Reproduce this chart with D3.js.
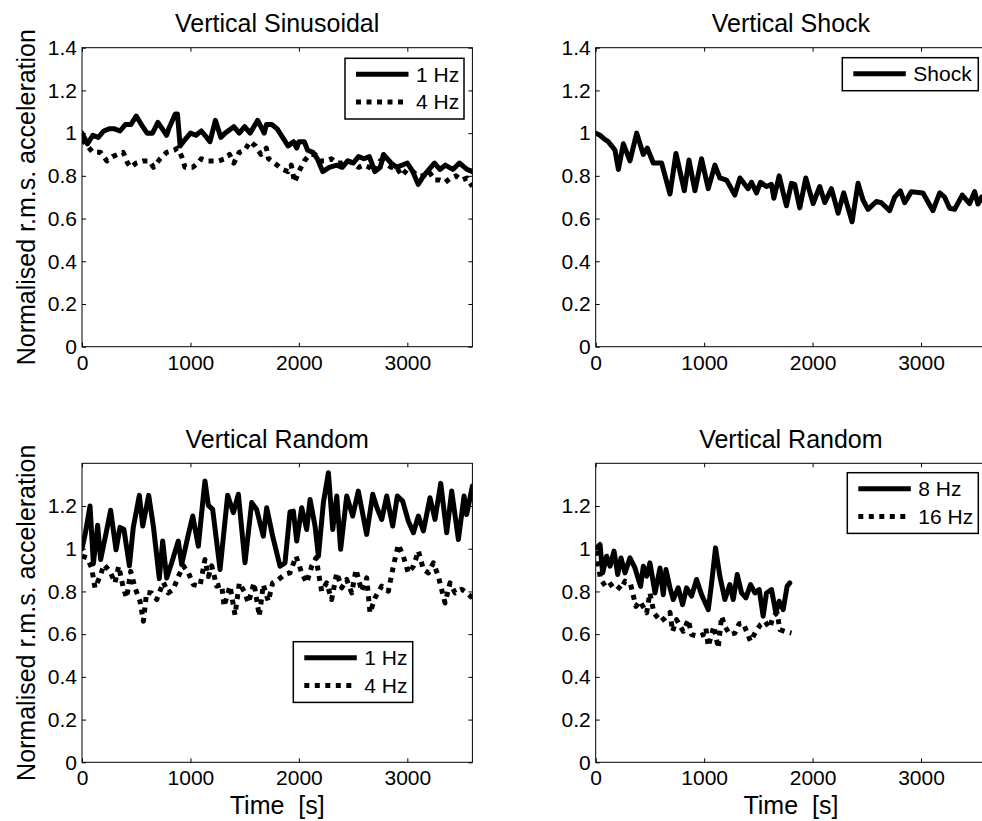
<!DOCTYPE html>
<html>
<head>
<meta charset="utf-8">
<script src="https://d3js.org/d3.v7.min.js"></script>
<style>
body { margin: 0; background: #fff; }
svg { display: block; font-family: "Liberation Sans", Arial, sans-serif; }
</style>
</head>
<body>
<div id="chart"></div>
<script>
// time axis ticks and y ticks
var xTicks = [0, 1000, 2000, 3000];
var yTicksTop = [0, 0.2, 0.4, 0.6, 0.8, 1, 1.2, 1.4];
var yTicksBottom = [0, 0.2, 0.4, 0.6, 0.8, 1, 1.2];

// [time s, normalised rms]
var sinus1Hz = [[0,1.0],[50,0.95],[100,0.99],[150,0.98],[200,1.01],[250,1.02],[300,1.02],[350,1.01],[400,1.04],[450,1.04],[500,1.08],[560,1.03],[600,1.0],[650,1.0],[700,1.05],[780,0.99],[800,1.02],[860,1.09],[880,1.09],[905,0.94],[950,0.97],[1000,1.0],[1050,0.99],[1100,1.01],[1150,0.98],[1180,0.96],[1230,1.06],[1280,0.98],[1320,1.0],[1400,1.03],[1450,1.0],[1500,1.03],[1550,1.0],[1620,1.06],[1680,1.0],[1700,1.04],[1750,1.04],[1800,1.02],[1850,0.98],[1900,0.94],[1950,0.96],[1980,0.93],[2000,0.96],[2050,0.96],[2080,0.92],[2130,0.91],[2170,0.88],[2220,0.82],[2280,0.84],[2350,0.85],[2400,0.84],[2450,0.87],[2500,0.86],[2550,0.89],[2600,0.88],[2650,0.89],[2700,0.82],[2750,0.84],[2780,0.9],[2850,0.86],[2900,0.84],[3000,0.86],[3050,0.82],[3100,0.76],[3150,0.8],[3200,0.83],[3250,0.86],[3300,0.83],[3350,0.85],[3420,0.83],[3480,0.86],[3550,0.83],[3600,0.82]];
var sinus4Hz = [[0,0.97],[50,0.94],[100,0.91],[170,0.91],[230,0.87],[280,0.89],[330,0.9],[380,0.91],[420,0.86],[450,0.84],[500,0.86],[560,0.87],[620,0.87],[660,0.84],[720,0.88],[780,0.91],[850,0.92],[880,0.93],[920,0.89],[950,0.84],[1020,0.84],[1070,0.86],[1100,0.88],[1150,0.87],[1200,0.87],[1260,0.87],[1320,0.88],[1360,0.9],[1400,0.86],[1450,0.91],[1500,0.92],[1550,0.96],[1600,0.94],[1650,0.9],[1700,0.93],[1720,0.88],[1800,0.85],[1850,0.83],[1900,0.82],[1930,0.85],[1960,0.77],[2000,0.82],[2050,0.87],[2100,0.9],[2150,0.9],[2200,0.87],[2250,0.87],[2300,0.88],[2350,0.86],[2400,0.86],[2450,0.87],[2500,0.86],[2550,0.84],[2600,0.85],[2650,0.84],[2700,0.82],[2750,0.87],[2800,0.86],[2850,0.84],[2900,0.84],[2950,0.8],[3000,0.83],[3050,0.82],[3100,0.8],[3150,0.8],[3200,0.82],[3250,0.78],[3300,0.78],[3350,0.77],[3400,0.79],[3450,0.8],[3500,0.78],[3550,0.79],[3600,0.75]];
var shock = [[0,1.0],[40,0.99],[86,0.97],[115,0.96],[147,0.94],[178,0.92],[209,0.83],[255,0.95],[316,0.87],[378,1.0],[439,0.9],[476,0.93],[531,0.86],[608,0.86],[685,0.715],[740,0.905],[817,0.73],[860,0.874],[915,0.73],[976,0.88],[1038,0.74],[1099,0.85],[1145,0.79],[1207,0.78],[1283,0.71],[1330,0.79],[1406,0.74],[1437,0.77],[1483,0.72],[1520,0.77],[1575,0.75],[1621,0.76],[1643,0.695],[1692,0.8],[1729,0.72],[1759,0.66],[1805,0.765],[1835,0.76],[1882,0.65],[1937,0.79],[2005,0.67],[2066,0.75],[2112,0.675],[2174,0.74],[2235,0.625],[2287,0.72],[2364,0.585],[2419,0.765],[2465,0.687],[2511,0.643],[2588,0.68],[2634,0.674],[2711,0.637],[2757,0.7],[2809,0.73],[2849,0.674],[2911,0.726],[3018,0.72],[3110,0.637],[3172,0.72],[3218,0.7],[3264,0.648],[3310,0.643],[3380,0.71],[3448,0.67],[3494,0.726],[3525,0.668],[3558,0.7],[3600,0.66]];
var random1Hz = [[0,1.0],[30,1.07],[74,1.2],[105,0.93],[144,1.11],[172,0.95],[221,1.07],[264,1.18],[314,0.995],[350,1.1],[387,1.09],[437,0.92],[473,1.1],[529,1.25],[560,1.106],[615,1.25],[658,1.106],[713,0.86],[744,1.036],[781,0.863],[827,0.934],[888,1.036],[919,0.926],[981,1.067],[1021,1.153],[1073,1.012],[1119,1.247],[1134,1.317],[1165,1.203],[1205,1.184],[1273,0.903],[1343,1.25],[1396,1.169],[1442,1.255],[1503,0.934],[1565,1.216],[1610,1.184],[1672,1.059],[1703,1.192],[1758,1.059],[1826,0.918],[1872,0.934],[1918,1.172],[1949,1.176],[1980,1.036],[2026,1.192],[2072,1.09],[2103,1.231],[2149,1.106],[2180,0.965],[2226,1.216],[2272,1.356],[2312,1.09],[2349,1.247],[2385,0.997],[2441,1.247],[2496,1.153],[2548,1.27],[2625,1.067],[2681,1.255],[2720,1.192],[2764,1.137],[2810,1.247],[2865,1.106],[2908,1.247],[2957,1.223],[3009,1.13],[3056,1.075],[3102,1.153],[3148,1.083],[3209,1.239],[3255,1.137],[3308,1.306],[3363,1.075],[3409,1.27],[3471,1.043],[3523,1.247],[3547,1.16],[3600,1.294]];
var random4Hz = [[0,0.965],[49,0.957],[89,0.91],[120,0.817],[166,0.87],[203,0.926],[258,0.894],[304,0.84],[338,0.918],[381,0.817],[412,0.77],[449,0.894],[489,0.817],[535,0.754],[566,0.66],[596,0.796],[642,0.793],[689,0.762],[750,0.843],[796,0.793],[842,0.81],[888,0.87],[935,0.92],[981,0.887],[1027,0.832],[1088,0.825],[1134,0.95],[1165,0.87],[1196,0.92],[1242,0.825],[1288,0.832],[1310,0.73],[1365,0.825],[1411,0.69],[1451,0.84],[1503,0.793],[1534,0.746],[1586,0.84],[1635,0.684],[1672,0.832],[1718,0.754],[1758,0.84],[1811,0.856],[1872,0.88],[1918,0.887],[1974,0.965],[2026,0.887],[2072,0.84],[2118,0.918],[2158,0.957],[2210,0.801],[2256,0.84],[2302,0.762],[2349,0.887],[2395,0.817],[2441,0.856],[2487,0.793],[2527,0.903],[2579,0.801],[2625,0.864],[2656,0.7],[2702,0.77],[2764,0.825],[2825,0.801],[2871,0.918],[2917,1.02],[2963,0.965],[3009,0.887],[3056,0.918],[3102,0.99],[3148,0.903],[3194,0.887],[3240,0.934],[3286,0.87],[3348,0.746],[3394,0.84],[3440,0.793],[3501,0.81],[3547,0.793],[3600,0.77]];
var random8Hz = [[9,1.004],[40,1.02],[64,0.887],[101,0.965],[132,0.918],[169,0.989],[203,0.879],[233,0.957],[270,0.887],[316,0.957],[362,0.91],[414,0.824],[439,0.918],[470,0.871],[500,0.934],[547,0.793],[593,0.91],[623,0.785],[648,0.903],[685,0.817],[715,0.762],[761,0.817],[801,0.738],[838,0.817],[884,0.778],[930,0.856],[976,0.785],[1038,0.715],[1069,0.84],[1105,1.004],[1145,0.871],[1191,0.762],[1237,0.832],[1268,0.762],[1305,0.879],[1345,0.793],[1385,0.77],[1428,0.832],[1468,0.793],[1508,0.809],[1544,0.684],[1575,0.793],[1621,0.809],[1661,0.7],[1692,0.754],[1729,0.715],[1765,0.824],[1790,0.84]];
var random16Hz = [[9,0.99],[25,0.918],[46,0.856],[101,0.817],[163,0.84],[233,0.809],[270,0.848],[322,0.832],[371,0.73],[408,0.754],[470,0.7],[500,0.793],[537,0.7],[599,0.66],[639,0.676],[685,0.702],[709,0.613],[746,0.668],[807,0.613],[854,0.668],[884,0.598],[946,0.59],[992,0.598],[1016,0.629],[1038,0.543],[1090,0.637],[1130,0.535],[1161,0.684],[1191,0.637],[1237,0.598],[1283,0.605],[1323,0.649],[1360,0.652],[1397,0.605],[1428,0.566],[1477,0.613],[1520,0.645],[1560,0.66],[1606,0.629],[1636,0.684],[1673,0.7],[1698,0.621],[1744,0.613],[1805,0.605]];

var width = 982, height = 821;
var plotW = 390.4, plotH = 299;

var svg = d3.select("#chart")
    .append("svg")
    .attr("width", width)
    .attr("height", height);

var panels = [
    { id: "p1", left: 82, top: 47.7, title: "Vertical Sinusoidal", yTicks: yTicksTop, yLabel: true, xLabel: false,
      series: [{ name: "1 Hz", data: sinus1Hz, dotted: false }, { name: "4 Hz", data: sinus4Hz, dotted: true }],
      legend: { x: 345, y: 58.3, w: 119 } },
    { id: "p2", left: 595.7, top: 47.7, title: "Vertical Shock", yTicks: yTicksTop, yLabel: false, xLabel: false,
      series: [{ name: "Shock", data: shock, dotted: false }],
      legend: { x: 842.3, y: 57.7, w: 136 } },
    { id: "p3", left: 82, top: 463.3, title: "Vertical Random", yTicks: yTicksBottom, yLabel: true, xLabel: true,
      series: [{ name: "1 Hz", data: random1Hz, dotted: false }, { name: "4 Hz", data: random4Hz, dotted: true }],
      legend: { x: 293.3, y: 641.7, w: 119.4 } },
    { id: "p4", left: 595.7, top: 463.3, title: "Vertical Random", yTicks: yTicksBottom, yLabel: false, xLabel: true,
      series: [{ name: "8 Hz", data: random8Hz, dotted: false }, { name: "16 Hz", data: random16Hz, dotted: true }],
      legend: { x: 847.3, y: 472.7, w: 131 } }
];

var fmtY = function(d) { return String(+d.toFixed(1)); };

function styleLine(sel, dotted) {
    sel.attr("fill", "none")
        .attr("stroke", "#000")
        .attr("stroke-width", 5)
        .attr("stroke-linejoin", "round");
    if (dotted) {
        sel.attr("stroke-dasharray", "5,5.5").attr("stroke-linecap", "butt");
    } else {
        sel.attr("stroke-linecap", "round");
    }
}

panels.forEach(function(p) {
    var x = d3.scaleLinear().domain([0, 3600]).range([0, plotW]);
    var y = d3.scaleLinear().domain([0, 1.4]).range([plotH, 0]);

    var g = svg.append("g")
        .attr("transform", "translate(" + p.left + "," + p.top + ")");

    svg.append("clipPath").attr("id", "clip-" + p.id)
        .append("rect").attr("width", plotW).attr("height", plotH);

    var line = d3.line()
        .x(function(d) { return x(d[0]); })
        .y(function(d) { return y(d[1]); });

    var plot = g.append("g").attr("clip-path", "url(#clip-" + p.id + ")");
    p.series.forEach(function(s) {
        plot.append("path")
            .datum(s.data)
            .attr("d", line)
            .call(styleLine, s.dotted);
    });

    // axes, ticks pointing inwards on all four sides
    var axes = [
        g.append("g").attr("transform", "translate(0," + plotH + ")")
            .call(d3.axisBottom(x).tickValues(xTicks).tickSizeInner(-4).tickSizeOuter(0).tickPadding(8).tickFormat(d3.format("d"))),
        g.append("g")
            .call(d3.axisLeft(y).tickValues(p.yTicks).tickSizeInner(-4).tickSizeOuter(0).tickPadding(5).tickFormat(fmtY)),
        g.append("g")
            .call(d3.axisTop(x).tickValues(xTicks).tickSizeInner(-4).tickSizeOuter(0).tickFormat(function() { return ""; })),
        g.append("g").attr("transform", "translate(" + plotW + ",0)")
            .call(d3.axisRight(y).tickValues(p.yTicks).tickSizeInner(-4).tickSizeOuter(0).tickFormat(function() { return ""; }))
    ];
    axes.forEach(function(a) {
        a.attr("font-size", 21).attr("font-family", null);
        a.select(".domain").remove();
        a.selectAll(".tick line").attr("stroke", "#000");
        a.selectAll(".tick text").attr("fill", "#000");
    });

    g.append("rect")
        .attr("width", plotW)
        .attr("height", plotH)
        .attr("fill", "none")
        .attr("stroke", "#000")
        .attr("stroke-width", 1);

    g.append("text")
        .attr("x", plotW / 2)
        .attr("y", -15.5)
        .attr("text-anchor", "middle")
        .attr("font-size", 25)
        .text(p.title);

    if (p.xLabel) {
        g.append("text")
            .attr("x", plotW / 2)
            .attr("y", plotH + 51.7)
            .attr("text-anchor", "middle")
            .attr("font-size", 25)
            .style("white-space", "pre")
            .text("Time  [s]");
    }
    if (p.yLabel) {
        svg.append("text")
            .attr("transform", "translate(35," + (p.top + plotH / 2) + ") rotate(-90)")
            .attr("text-anchor", "middle")
            .attr("font-size", 25)
            .text("Normalised r.m.s. acceleration");
    }

    // legend
    var rowH = 27.7;
    var leg = svg.append("g")
        .attr("transform", "translate(" + p.legend.x + "," + p.legend.y + ")");
    leg.append("rect")
        .attr("width", p.legend.w)
        .attr("height", 33 + rowH * (p.series.length - 1))
        .attr("fill", "#fff")
        .attr("stroke", "#000")
        .attr("stroke-width", 1.5);
    p.series.forEach(function(s, i) {
        var cy = 16 + i * rowH;
        leg.append("line")
            .attr("x1", 11).attr("x2", 63.5)
            .attr("y1", cy).attr("y2", cy)
            .call(styleLine, s.dotted)
            .attr("stroke-linecap", "butt");
        leg.append("text")
            .attr("x", 71)
            .attr("y", cy + 7.5)
            .attr("font-size", 21)
            .text(s.name);
    });
});
</script>
</body>
</html>
